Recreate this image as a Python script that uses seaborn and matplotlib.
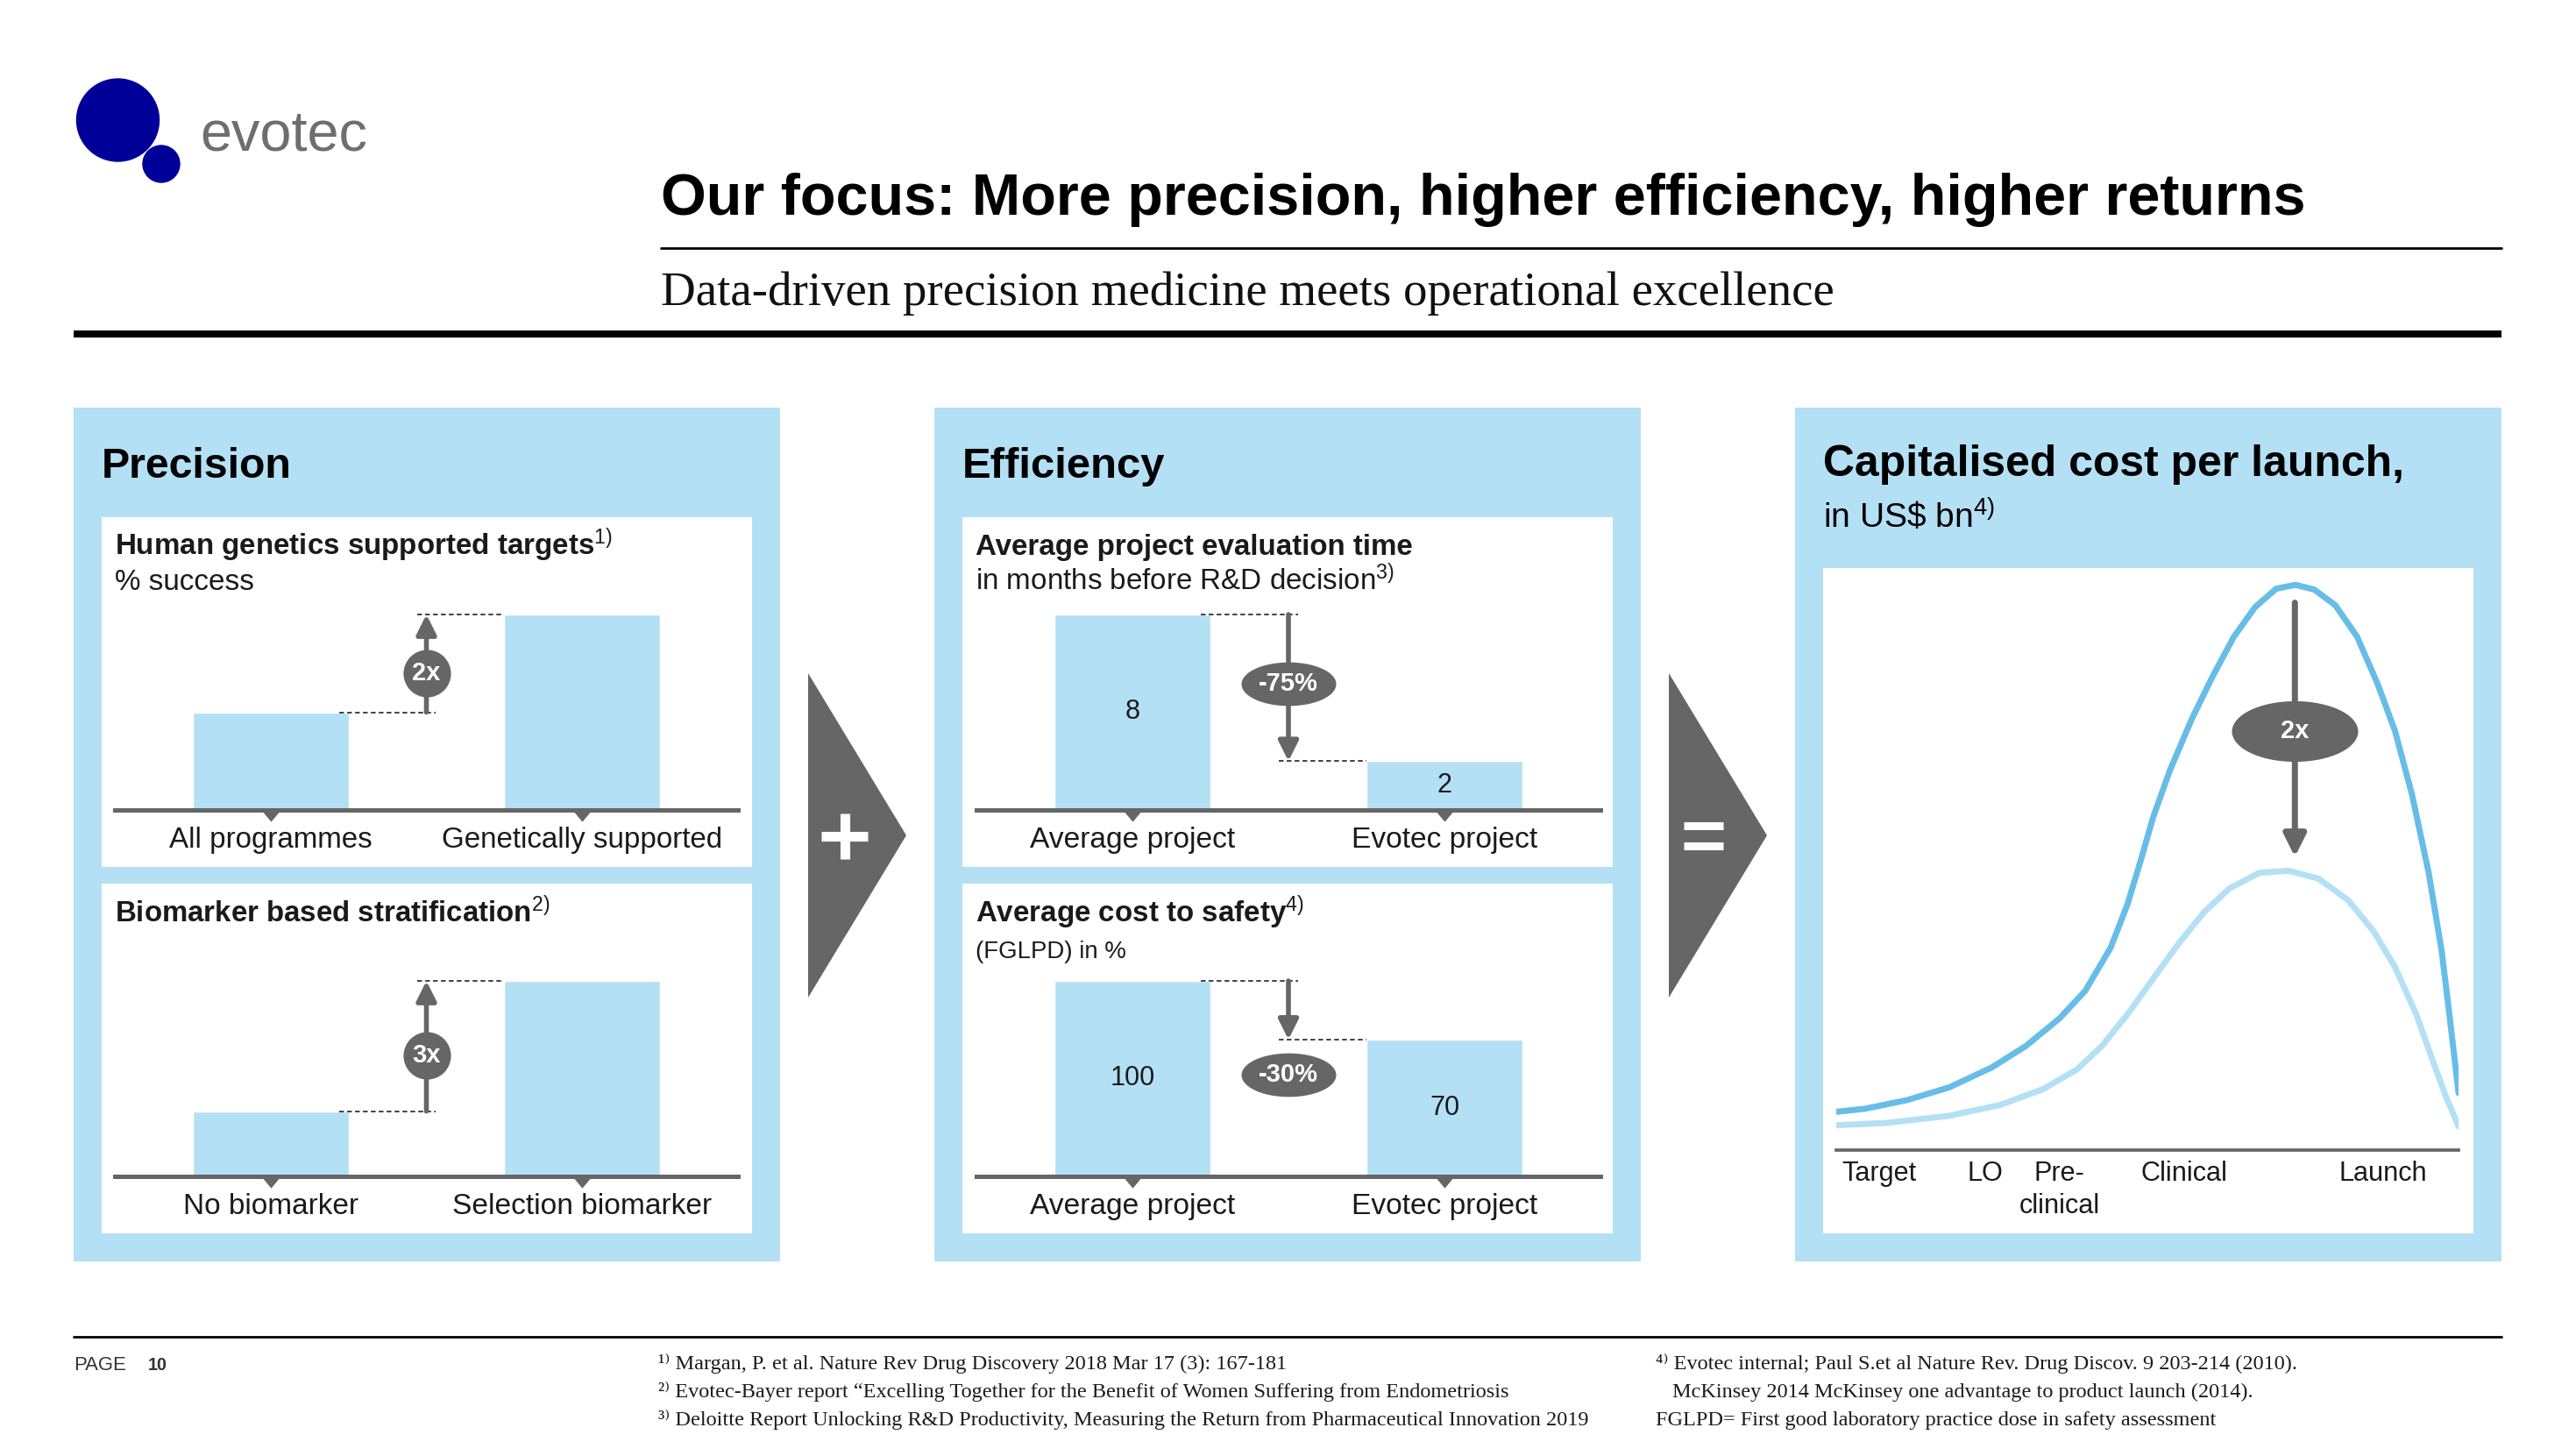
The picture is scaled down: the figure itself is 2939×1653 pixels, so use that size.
import numpy as np
import pandas as pd
import matplotlib
matplotlib.use("Agg")
import matplotlib.pyplot as plt
import seaborn as sns
from matplotlib import font_manager
from matplotlib.patches import Rectangle, Circle, Polygon
from matplotlib.transforms import offset_copy

sns.set_style("white")

fnames = {f.name for f in font_manager.fontManager.ttflist}
NARROW = 'Liberation Sans Narrow' if 'Liberation Sans Narrow' in fnames else 'Liberation Sans'
SANS = [NARROW, 'DejaVu Sans']
WIDE = ['Liberation Sans', 'DejaVu Sans']
SERIF = ['Liberation Serif', 'DejaVu Serif']
plt.rcParams['font.family'] = SANS
plt.rcParams['mathtext.fontset'] = 'custom'
plt.rcParams['mathtext.rm'] = 'Liberation Sans'
plt.rcParams['mathtext.bf'] = 'Liberation Sans:bold'
plt.rcParams['mathtext.it'] = 'Liberation Sans:italic'

# ---- values ----
prec_cats = ['All programmes', 'Genetically supported']
prec_vals = [1, 2]          # relative success, "2x"
strat_cats = ['No biomarker', 'Selection biomarker']
strat_vals = [1, 3]         # relative success, "3x"
eval_cats = ['Average project', 'Evotec project']
eval_vals = [8, 2]          # months before R&D decision
cost_cats = ['Average project', 'Evotec project']
cost_vals = [100, 70]       # cost to safety in %

# cost curve, x = share of the development axis (0-100), y = relative cost
stage_ticks = [6.8, 24.0, 35.9, 75.8]
stage_labels = ['Target', 'LO', 'Pre-\nclinical', 'Clinical', 'Launch']
stage_label_x = [6.9, 24.0, 35.9, 55.9, 87.9]
upper_x = [0, 4.6, 11.4, 18.2, 25.0, 30.5, 35.9, 40.0, 44.1, 46.8, 48.9, 50.9, 53.6, 57.1,
           60.5, 63.9, 67.3, 70.7, 73.8, 76.8, 80.2, 83.7, 87.0, 89.8, 92.5, 95.2, 97.3,
           98.6, 100]
upper_y = [0.137, 0.148, 0.179, 0.225, 0.296, 0.373, 0.472, 0.570, 0.725, 0.880, 1.035,
           1.190, 1.359, 1.542, 1.697, 1.838, 1.944, 2.010, 2.024, 2.007, 1.951, 1.838,
           1.669, 1.500, 1.275, 0.993, 0.711, 0.472, 0.204]
lower_x = [0, 8.0, 18.2, 26.4, 33.2, 38.7, 42.7, 46.8, 50.9, 55.0, 59.1, 63.2, 68.0, 72.7,
           77.5, 82.3, 86.4, 89.8, 93.2, 95.9, 98.0, 100]
lower_y = [0.089, 0.097, 0.123, 0.162, 0.218, 0.289, 0.373, 0.486, 0.613, 0.739, 0.852,
           0.937, 0.993, 1.000, 0.972, 0.894, 0.782, 0.655, 0.486, 0.317, 0.190, 0.085]

notes_left = ['¹⁾ Margan, P. et al. Nature Rev Drug Discovery 2018 Mar 17 (3): 167-181',
              '²⁾ Evotec-Bayer report “Excelling Together for the Benefit of Women Suffering from Endometriosis',
              '³⁾ Deloitte Report Unlocking R&D Productivity, Measuring the Return from Pharmaceutical Innovation 2019']
notes_right = ['⁴⁾ Evotec internal; Paul S.et al Nature Rev. Drug Discov. 9 203-214 (2010).',
               'McKinsey 2014 McKinsey one advantage to product launch (2014).',
               'FGLPD= First good laboratory practice dose in safety assessment']

BLUE = '#b4e0f5'
GREY = '#666666'
DARK_CURVE = '#67bde8'
NAVY = '#000099'
INK = '#1a1a1a'

W, H = 2939, 1653
fig = plt.figure(figsize=(W / 100, H / 100), dpi=100)
bg = fig.add_axes([0, 0, 1, 1])
bg.set_xlim(0, W)
bg.set_ylim(H, 0)
bg.axis('off')


def px_axes(x0, y0, x1, y1):
    ax = fig.add_axes([x0 / W, 1 - y1 / H, (x1 - x0) / W, (y1 - y0) / H])
    ax.patch.set_visible(False)
    return ax


fits = []


def T(x, y, s, w, **kw):
    t = bg.text(x, y, s, va='baseline', fontsize=20, **kw)
    fits.append((t, w))
    return t


# logo
bg.add_patch(Circle((134.5, 137), 47, color=NAVY))
bg.add_patch(Circle((184, 187), 21, color=NAVY))
T(228, 172, 'evotec', 190, color='#6e6e6e')

# header
T(754, 245, 'Our focus: More precision, higher efficiency, higher returns', 1874,
  fontweight='bold', color='black')
bg.plot([754, 2854], [283, 283], color='black', lw=2)
T(754, 348, 'Data-driven precision medicine meets operational excellence', 1342,
  family=SERIF, color='#111111')
bg.plot([84, 2854], [381, 381], color='black', lw=5.8, solid_capstyle='butt')

# panels
for x0 in [84, 1066, 2048]:
    bg.add_patch(Rectangle((x0, 465), 806, 974, color=BLUE, lw=0))
for x0 in [116, 1098]:
    bg.add_patch(Rectangle((x0, 590), 742, 399, color='white', lw=0))
    bg.add_patch(Rectangle((x0, 1008), 742, 399, color='white', lw=0))
bg.add_patch(Rectangle((2080, 648), 742, 759, color='white', lw=0))

T(116, 545, 'Precision', 217, fontweight='bold', color='black')
T(1098, 545, 'Efficiency', 232, fontweight='bold', color='black')
T(2080, 543, 'Capitalised cost per launch,', 662, fontweight='bold', color='black', family=WIDE)
T(2080, 603, r'in US\$ bn$^{4)}$', 197, color='black', family=WIDE)

T(131, 633, r'Human genetics supported targets$^{1)}$', 568, fontweight='bold', color=INK)
T(131, 673, '% success', 159, color=INK)
T(131, 1052, r'Biomarker based stratification$^{2)}$', 497, fontweight='bold', color=INK)
T(1113, 633, 'Average project evaluation time', 500, fontweight='bold', color=INK)
T(1113, 673, r'in months before R&D decision$^{3)}$', 478, color=INK)
T(1113, 1052, r'Average cost to safety$^{4)}$', 375, fontweight='bold', color=INK)
T(1113, 1093, '(FGLPD) in %', 172, color=INK)

# connector arrows
for x0 in [922, 1904]:
    bg.add_patch(Polygon([(x0, 768), (x0, 1138), (x0 + 112, 953)], color=GREY, lw=0))
bg.plot([937, 990], [954, 954], color='white', lw=8, solid_capstyle='butt')
bg.plot([963.5, 963.5], [928, 980], color='white', lw=8, solid_capstyle='butt')
bg.plot([1921, 1966], [942, 942], color='white', lw=6.5, solid_capstyle='butt')
bg.plot([1921, 1966], [965, 965], color='white', lw=6.5, solid_capstyle='butt')

TICK_MARK = [(-1, 0), (1, 0), (0, -1.2)]
t_ell = np.linspace(0, 2 * np.pi, 80)


def oval(ratio):
    return np.column_stack([np.cos(t_ell), ratio * np.sin(t_ell)])


BAR_H = 223


def bar_panel(x0, x1, base, cats, vals, badge, badge_y, label_w, show_vals=False, is_oval=False):
    ax = px_axes(x0, base - BAR_H, x1, base)
    sns.barplot(x=cats, y=vals, ax=ax, color=BLUE, width=0.5, saturation=1, errorbar=None)
    ax.set_xlim(-0.5, 1.5)
    ax.set_ylim(0, max(vals))
    sns.despine(ax=ax, left=True)
    ax.spines['bottom'].set_color(GREY)
    ax.spines['bottom'].set_linewidth(3.6)
    ax.set_xticks([])
    ax.set_yticks([])
    ax.set_xlabel('')
    ax.set_ylabel('')
    ax.scatter([0, 1], [0, 0], marker=TICK_MARK, s=360, color=GREY, clip_on=False, zorder=5, lw=0)
    tr = offset_copy(ax.get_xaxis_transform(), fig=fig, y=-43, units='dots')
    for i, c in enumerate(cats):
        t = ax.text(i, 0, c, transform=tr, ha='center', va='baseline', fontsize=20, color=INK)
        fits.append((t, label_w[i]))
    if show_vals:
        ax.bar_label(ax.containers[0], fmt='%g', label_type='center', fontsize=22, color=INK)
    dash = dict(color='#333333', lw=1.3, ls=(0, (3, 2)), clip_on=False)
    ax.plot([0.22, 0.53], [vals[0], vals[0]], **dash)
    ax.plot([0.47, 0.75], [vals[1], vals[1]], **dash)
    ax.annotate('', xy=(0.5, vals[1]), xytext=(0.5, vals[0]),
                arrowprops=dict(arrowstyle='-|>,head_length=0.4,head_width=0.2', color=GREY,
                                lw=4, mutation_scale=34, shrinkA=0, shrinkB=0))
    if is_oval:
        ax.scatter([0.5], [badge_y], marker=oval(0.46), s=6050, color=GREY, zorder=6, clip_on=False, lw=0)
    else:
        ax.scatter([0.5], [badge_y], marker='o', s=1520, color=GREY, zorder=6, clip_on=False, lw=0)
    ax.text(0.5, badge_y, badge, color='white', fontweight='bold', ha='center', va='center',
            fontsize=21, zorder=7)
    return ax


bar_panel(131, 842, 924, prec_cats, prec_vals, '2x', 1.40, [232, 320])
bar_panel(131, 842, 1342, strat_cats, strat_vals, '3x', 1.86, [200, 296])
bar_panel(1114, 1826, 924, eval_cats, eval_vals, '-75%', 5.15, [234, 212], True, True)
bar_panel(1114, 1826, 1342, cost_cats, cost_vals, '-30%', 52, [234, 212], True, True)

# capitalised cost curve
axc = px_axes(2095, 1312 - 2.1 * 318.6, 2805, 1312)
sns.lineplot(x=upper_x, y=upper_y, ax=axc, color=DARK_CURVE, lw=5, sort=False)
sns.lineplot(x=lower_x, y=lower_y, ax=axc, color=BLUE, lw=5, sort=False)
axc.set_xlim(0, 100)
axc.set_ylim(0, 2.1)
sns.despine(ax=axc, left=True)
axc.spines['bottom'].set_color(GREY)
axc.spines['bottom'].set_linewidth(2.7)
axc.set_yticks([])
axc.set_xticks(stage_ticks)
axc.tick_params(axis='x', direction='in', length=11, width=1.8, color=GREY, labelbottom=False)
curve_labels = []
for xpos, lab in zip(stage_label_x, stage_labels):
    for k, line in enumerate(lab.split('\n')):
        tr = offset_copy(axc.get_xaxis_transform(), fig=fig, y=-35 - 37 * k, units='dots')
        curve_labels.append(axc.text(xpos, 0, line, transform=tr, ha='center', va='baseline',
                                     fontsize=19, color=INK, family=WIDE))
axc.annotate('', xy=(73.7, 1.05), xytext=(73.7, 1.96),
             arrowprops=dict(arrowstyle='-|>,head_length=0.4,head_width=0.2', color=GREY,
                             lw=5, mutation_scale=38, shrinkA=0, shrinkB=0))
axc.scatter([73.7], [1.50], marker=oval(0.48), s=10750, color=GREY, zorder=6, clip_on=False, lw=0)
axc.text(73.7, 1.50, '2x', color='white', fontweight='bold', ha='center', va='center',
         fontsize=21, zorder=7, family=WIDE)

# footer
bg.plot([84, 2854], [1525, 1525], color='black', lw=2)
T(84, 1563, 'PAGE', 60, color='#333333')
T(169, 1563, '10', 22, color='#333333', fontweight='bold')
notes = []
for i, s in enumerate(notes_left):
    notes.append(bg.text(751, 1562 + 32 * i, s, va='baseline', family=SERIF, fontsize=14, color=INK))
for i, s in enumerate(notes_right):
    notes.append(bg.text(1908 if i == 1 else 1889, 1562 + 32 * i, s, va='baseline',
                         family=SERIF, fontsize=14, color=INK))

# size texts so their widths match the slide
renderer = fig.canvas.get_renderer()


def fit(t, width):
    w = t.get_window_extent(renderer).width
    t.set_fontsize(t.get_fontsize() * width / w)


for t, w in fits:
    fit(t, w)
fit(notes[2], 1063)
for t in notes:
    t.set_fontsize(notes[2].get_fontsize())
fit(curve_labels[4], 99)
for t in curve_labels:
    t.set_fontsize(curve_labels[4].get_fontsize())

fig.savefig('out.png', dpi=100)
